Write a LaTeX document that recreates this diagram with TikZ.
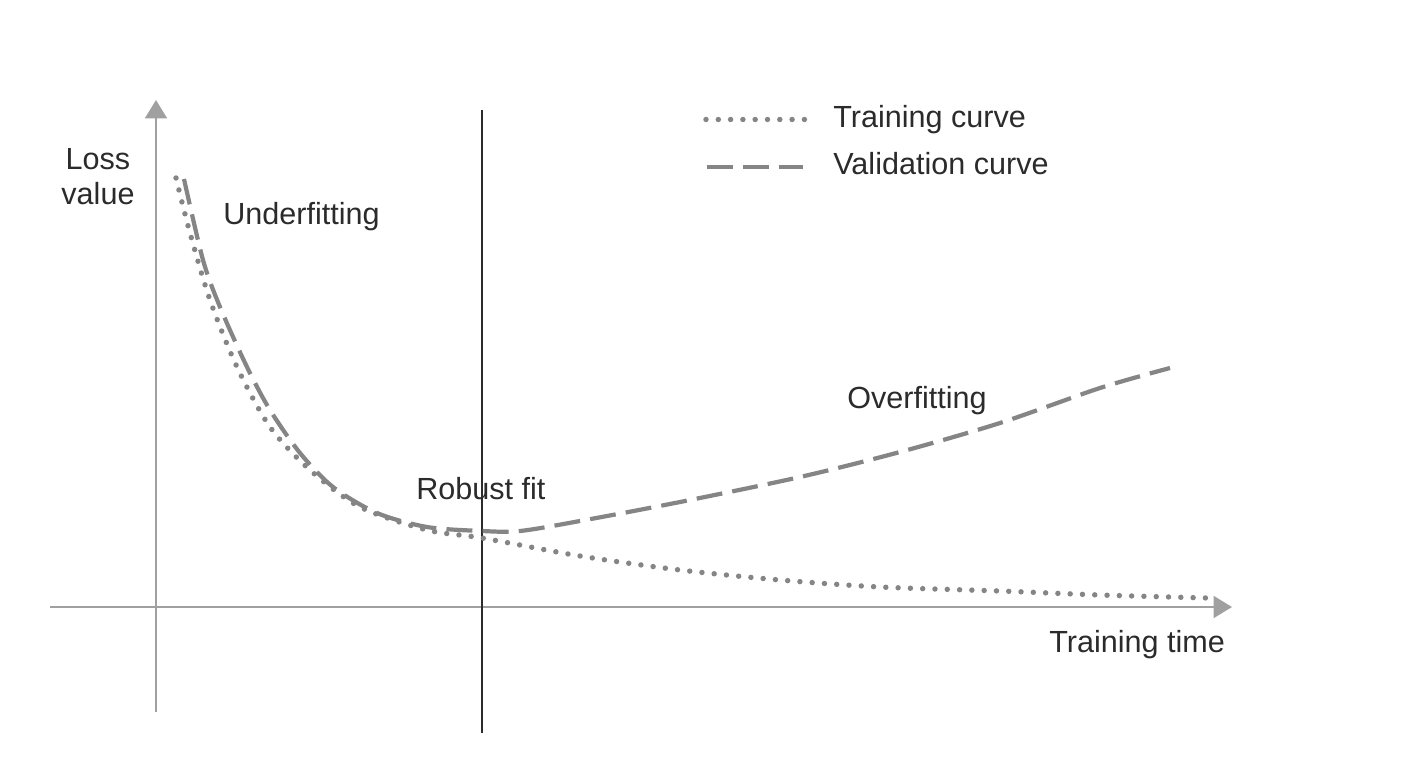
\documentclass[tikz,border=0pt]{standalone}
\usepackage{xcolor}
\usepackage{fontspec}
\setmainfont{Liberation Sans}
\usetikzlibrary{arrows.meta}

\definecolor{curvegray}{HTML}{858585}
\definecolor{axisgray}{HTML}{A0A0A0}
\definecolor{textdark}{HTML}{2B2B2B}

\begin{document}
\begin{tikzpicture}[x=0.02cm, y=-0.02cm,
  axisline/.style={draw=axisgray, line width=1.2pt, -{Triangle[length=10.5pt, width=12.5pt]}},
  traincurve/.style={draw=curvegray, line width=3.1pt, line cap=round, dash pattern=on 0pt off 7pt},
  valcurve/.style={draw=curvegray, line width=2.4pt, dash pattern=on 14.8pt off 5.8pt},
  lbl/.style={text=textdark, inner sep=0pt, font=\fontsize{17.4}{19.9}\selectfont}]
\useasboundingbox (0,0) rectangle (1420,770);

\coordinate (ybot) at (156,712);
\coordinate (ytop) at (156,100);
\coordinate (xleft) at (50,607);
\coordinate (xright) at (1232,607);
\coordinate (splitT) at (482,110);
\coordinate (splitB) at (482,733);

\draw [axisline] (ybot) -- (ytop);
\draw [axisline] (xleft) -- (xright);
\draw [draw=textdark, line width=0.9pt] (splitT) -- (splitB);

\draw [traincurve] plot [smooth] coordinates {(176,178) (190,233) (210,300) (237,367) (270,427) (310,470) (360,507) (427,530) (482,538) (580,556) (680,570) (780,580) (880,587) (1000,591) (1100,595) (1208,598)};
\draw [valcurve] plot [smooth] coordinates {(184,179) (203,260) (220,307) (247,367) (270,410) (300,453) (333,487) (377,513) (427,527) (482,531) (520,531) (580,521) (680,502) (800,477) (900,452) (1000,423) (1100,388) (1170,368)};

\node [lbl, align=center] (loss) at (98,177) {Loss\\value};
\node [lbl, anchor=base west] (under) at (223,225) {Underfitting};
\node [lbl, anchor=base west] (robust) at (416,499) {Robust fit};
\node [lbl, anchor=base west] (over) at (847,408) {Overfitting};
\node [lbl, anchor=base west] (ttime) at (1049,652) {Training time};

\node [lbl, anchor=base west] (legtrain) at (833,128) {Training curve};
\node [lbl, anchor=base west] (legval) at (833,175) {Validation curve};
\coordinate (legtrainA) at (706,119.5);
\coordinate (legtrainB) at (808,119.5);
\coordinate (legvalA) at (707,167);
\coordinate (legvalB) at (803,167);
\draw [traincurve] (legtrainA) -- (legtrainB);
\draw [valcurve] (legvalA) -- (legvalB);
\end{tikzpicture}
\end{document}
